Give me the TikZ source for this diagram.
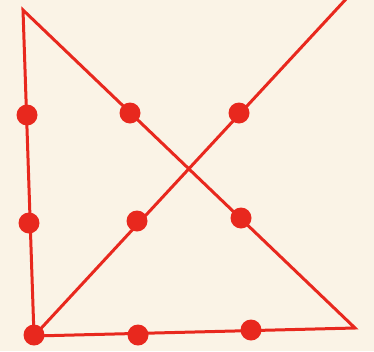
\documentclass[tikz,border=0pt]{standalone}
\usepackage{tikz}
\usetikzlibrary{positioning}
\definecolor{paper}{HTML}{FAF3E6}
\definecolor{ink}{HTML}{E8281E}
\tikzset{
  dot/.style={circle,fill=ink,inner sep=0pt,minimum size=21pt},
  stroke/.style={draw=ink,line width=3pt,line join=miter}
}

\begin{document}
\begin{tikzpicture}[x=1pt,y=-1pt]
  \fill[paper] (0,0) rectangle (374,351);
  \useasboundingbox (0,0) rectangle (374,351);
  % ends of the four strokes
  \coordinate (tl) at (23,10);
  \coordinate (tr) at (347,-2);
  \coordinate (br) at (355,328);
  \draw[stroke] (tr) -- (34,336) coordinate (bl) -- (br) -- (tl) -- (bl);
  % the nine dots
  \node[dot] (d11) at (27,115) {};
  \node[dot] (d12) at (130,113) {};
  \node[dot] (d13) at (239,113) {};
  \node[dot] (d21) at (29,223) {};
  \node[dot] (d22) at (137,221) {};
  \node[dot] (d23) at (241,218) {};
  \node[dot] (d31) at (34,335) {};
  \node[dot] (d32) at (138,335) {};
  \node[dot] (d33) at (251,330) {};
\end{tikzpicture}
\end{document}
